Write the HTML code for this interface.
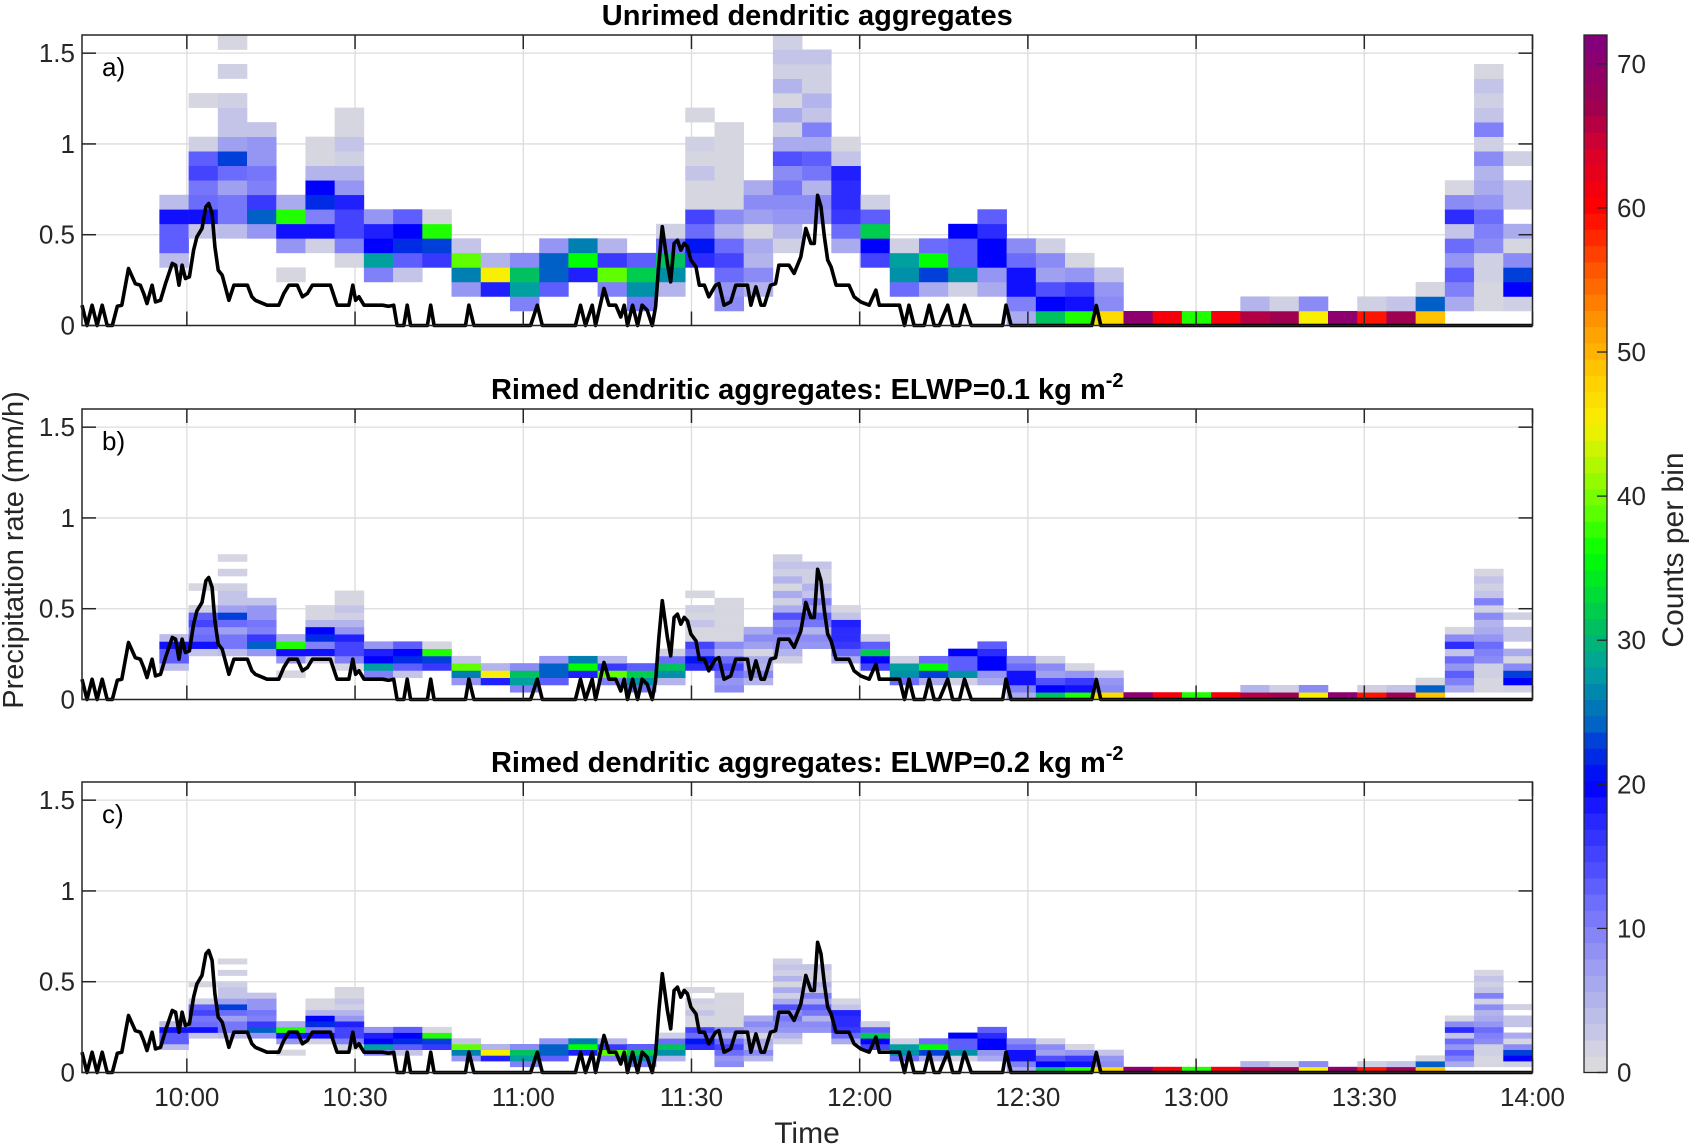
<!DOCTYPE html>
<html><head><meta charset="utf-8"><style>
html,body{margin:0;padding:0;background:#fff}
svg{display:block;font-family:"Liberation Sans",Arial,sans-serif}
</style></head><body>
<svg id="chart" width="1692" height="1147" viewBox="0 0 1692 1147" xmlns="http://www.w3.org/2000/svg"></svg>
<script>
// ---- data ----
const xTickLabels = ["10:00","10:30","11:00","11:30","12:00","12:30","13:00","13:30","14:00"];
const xTickMinutes = [0,30,60,90,120,150,180,210,240]; // minutes after 10:00
const yTickValues = [0,0.5,1,1.5];
const yTickLabels = ["0","0.5","1","1.5"];
const cbTickValues = [0,10,20,30,40,50,60,70];
const panelTitles = ["Unrimed dendritic aggregates","Rimed dendritic aggregates: ELWP=0.1 kg m","Rimed dendritic aggregates: ELWP=0.2 kg m"];
const panelLetters = ["a)","b)","c)"];
const rowBinWidth = [0.08, 0.04, 0.0314]; // mm/h per heatmap row
const colStartMinute = -4.9;
const colEndMinute = 240;
// counts per bin, per time column, from lowest row upward
const countsA = [
[0,0,0,0,4,13,13,19,4],
[0,0,0,0,0,0,3,19,12,11,15,13,2,0,0,1],
[0,0,0,0,0,0,4,11,11,7,12,23,7,3,3,2,0,2,0,1],
[0,0,0,0,0,0,8,24,16,10,11,8,8,3],
[0,0,0,1,0,8,19,37,6],
[0,0,0,0,0,2,19,10,22,20,5,1,1],
[0,0,0,0,1,10,15,15,18,8,5,2,3,1,1],
[0,0,0,10,28,20,18,8],
[0,0,0,3,13,22,20,13],
[0,0,0,0,16,23,37,1],
[0,0,8,26,39,3],
[0,0,18,45,5],
[0,10,28,31,9],
[0,0,13,24,24,8],
[0,0,0,18,36,26],
[0,0,10,39,16,5],
[0,11,27,32,13],
[0,0,5,27,31,12,2],
[0,0,0,0,17,21,12,15,1,1,3,1,2,0,1],
[0,9,8,12,15,12,5,9,1,1,1,1,1,1],
[0,0,5,9,5,6,1,7,9,6],
[0,0,0,0,0,2,5,8,9,11,9,14,6,2,6,1,5,2,3,2],
[0,0,0,0,0,0,0,8,9,5,11,13,6,10,3,5,2,2,3],
[0,0,0,0,0,6,12,16,17,17,18,3,1],
[0,0,0,0,15,20,32,13,2],
[0,0,12,27,28,2],
[0,0,6,23,36,12],
[0,0,2,27,13,13,20],
[0,0,6,8,20,20,17,13],
[6,10,19,19,12,9],
[31,20,14,7,9,2],
[37,19,16,8,1],
[47,9,8,3],
[70],[61],[37],[61],[66,5],[67,2],[45,9],[70],[59,2],[67,3],
[49,24,1],
[0,6,10,13,8,12,3,17,9,1],
[0,1,1,2,2,9,10,12,8,6,5,9,2,10,3,2,3,1],
[0,2,20,23,9,1,6,0,3,3,0,2]
];
const countsB = countsA;
const countsC = countsA;
// observed precipitation rate line (minutes after 10:00, mm/h)
const lineMinutes = [-18.7,-17.8,-16.9,-16.0,-15.1,-14.2,-13.3,-12.4,-11.6,-10.4,-9.2,-8.3,-7.7,-7.1,-6.2,-5.6,-4.7,-3.8,-2.6,-2.0,-1.4,-0.85,-0.25,0.46,1.2,1.8,2.7,3.4,3.9,4.5,5.0,5.6,6.3,7.5,8.4,10.8,11.6,12.2,14.3,16.4,17.3,18.2,19.7,20.6,21.5,22.4,25.6,26.5,26.8,28.9,29.6,30.1,30.7,31.6,34.9,36.0,36.9,37.5,38.7,39.3,39.9,42.9,43.5,44.1,49.7,50.3,51.2,61.3,62.5,63.4,68.45,69.3,70.2,71.1,72.3,72.9,74.4,75.3,76.5,77.4,78.0,78.6,79.5,80.4,81.2,82.1,83.0,83.6,84.2,84.8,85.7,86.3,86.9,87.5,88.1,88.7,89.3,89.9,90.8,91.4,92.3,93.1,94.3,94.9,95.8,97.0,97.9,100.0,100.6,101.5,102.4,103.0,104.1,105.0,105.6,107.4,108.3,109.5,110.4,111.3,111.9,112.5,113.1,113.7,114.3,114.9,115.8,118.1,119.0,120.2,121.7,122.9,123.5,127.1,128.0,128.8,129.7,131.5,132.4,133.3,134.2,135.7,136.6,137.8,138.7,139.9,145.5,146.1,147.0,161.4,162.2,163.0,240];
const lineRates = [0.112,0,0.112,0,0.112,0,0,0.106,0.112,0.314,0.231,0.222,0.176,0.121,0.222,0.130,0.139,0.231,0.342,0.332,0.222,0.332,0.259,0.268,0.415,0.488,0.535,0.654,0.672,0.617,0.433,0.305,0.277,0.139,0.222,0.222,0.158,0.139,0.112,0.112,0.176,0.222,0.222,0.158,0.176,0.222,0.222,0.139,0.112,0.112,0.222,0.139,0.158,0.112,0.112,0.106,0.112,0,0,0.112,0,0,0.112,0,0,0.112,0,0,0.112,0,0,0,0.112,0,0.112,0,0.204,0.112,0.112,0.047,0.112,0,0.112,0,0.112,0.084,0,0.103,0.342,0.544,0.342,0.240,0.452,0.470,0.415,0.452,0.433,0.360,0.323,0.222,0.222,0.158,0.222,0.231,0.112,0.130,0.222,0.222,0.112,0.213,0.112,0.112,0.222,0.231,0.332,0.332,0.287,0.378,0.535,0.452,0.452,0.717,0.654,0.488,0.360,0.323,0.222,0.222,0.158,0.130,0.112,0.195,0.112,0.112,0,0.112,0,0,0.112,0,0,0.112,0,0,0.112,0,0,0.112,0,0,0.11,0,0];
// ---- colormap (counts -> colour) ----
const cmapStops = [[0,"#dcdcdc"],[2,"#d0d0e4"],[3,"#c4c4e8"],[5,"#b4b4ec"],[7,"#a0a0f0"],[10,"#8080f8"],[12,"#6c6cfc"],[14,"#5050ff"],[16,"#3838ff"],[18,"#2020ff"],[20,"#0000ff"],[23,"#0040d8"],[24,"#0060c8"],[26,"#0080b0"],[28,"#00a0a0"],[31,"#00c060"],[36,"#00ff00"],[39,"#60ff00"],[45,"#f8f000"],[48,"#ffd000"],[52,"#ff9800"],[56,"#ff5000"],[60,"#ff0000"],[64,"#d8002c"],[67,"#a00050"],[72,"#800080"]];
function hex2rgb(h){return [parseInt(h.substr(1,2),16),parseInt(h.substr(3,2),16),parseInt(h.substr(5,2),16)];}
function cmap(v){
  if(v<=cmapStops[0][0]) return cmapStops[0][1];
  for(let i=1;i<cmapStops.length;i++){
    if(v<=cmapStops[i][0]){
      const a=cmapStops[i-1],b=cmapStops[i],f=(v-a[0])/(b[0]-a[0]);
      const ca=hex2rgb(a[1]),cb=hex2rgb(b[1]);
      return "rgb("+ca.map((c,k)=>Math.round(c+(cb[k]-c)*f)).join(",")+")";
    }
  }
  return cmapStops[cmapStops.length-1][1];
}
// ---- layout ----
const NS="http://www.w3.org/2000/svg";
const svg=document.getElementById("chart");
const plotL=82, plotR=1532.5, plotH=290.5;
const panelTops=[35,409,782];
const xMin=-18.7, xMax=240, yMax=1.6;
function xScale(t){return plotL+(t-xMin)/(xMax-xMin)*(plotR-plotL);}
function mk(tag,attrs,parent){const e=document.createElementNS(NS,tag);for(const k in attrs)e.setAttribute(k,attrs[k]);(parent||svg).appendChild(e);return e;}
const allCounts=[countsA,countsB,countsC];
const nCols=countsA.length;
const colW=(colEndMinute-colStartMinute)/nCols;

for(let p=0;p<3;p++){
  const top=panelTops[p], bot=top+plotH;
  const yScale=v=>bot-v/yMax*plotH;
  const g=mk("g",{});
  
  
  // grid
  const grid=mk("g",{},g);
  
  
  xTickMinutes.forEach(t=>{const x=xScale(t);mk("line",{x1:x,x2:x,y1:top,y2:bot,stroke:"#dcdcdc","stroke-width":1.3},grid);});
  yTickValues.forEach(v=>{const y=yScale(v);mk("line",{x1:plotL,x2:plotR,y1:y,y2:y,stroke:"#dcdcdc","stroke-width":1.3},grid);});
  // heatmap
  const hm=mk("g",{},g);
  
  
  const counts=allCounts[p], rh=rowBinWidth[p];
  counts.forEach((col,ci)=>{
    const x0=xScale(colStartMinute+ci*colW), x1=xScale(colStartMinute+(ci+1)*colW);
    col.forEach((c,ri)=>{
      if(c<=0) return;
      const y1=yScale(ri*rh), y0=yScale((ri+1)*rh);
      const r=mk("rect",{x:x0,y:y0,width:x1-x0+0.3,height:y1-y0+0.3,fill:cmap(c)},hm);
      
      
    });
  });
  // line
  let d="";
  lineMinutes.forEach((t,i)=>{d+=(i?"L":"M")+xScale(t).toFixed(1)+","+yScale(lineRates[i]).toFixed(1);});
  const ln=mk("path",{d:d,fill:"none",stroke:"#000","stroke-width":3.6,"stroke-linejoin":"round"},g);
  
  
  // axes box
  const box=mk("rect",{x:plotL,y:top,width:plotR-plotL,height:plotH,fill:"none",stroke:"#262626","stroke-width":1.5},g);
  
  
  // ticks
  xTickMinutes.forEach(t=>{const x=xScale(t);
    mk("line",{x1:x,x2:x,y1:bot,y2:bot-14,stroke:"#262626","stroke-width":1.5},g);
    mk("line",{x1:x,x2:x,y1:top,y2:top+14,stroke:"#262626","stroke-width":1.5},g);});
  yTickValues.forEach((v,i)=>{const y=yScale(v);
    mk("line",{x1:plotL,x2:plotL+14,y1:y,y2:y,stroke:"#262626","stroke-width":1.5},g);
    mk("line",{x1:plotR,x2:plotR-14,y1:y,y2:y,stroke:"#262626","stroke-width":1.5},g);
    const tl=mk("text",{x:75,y:y+9,"text-anchor":"end","font-size":26,fill:"#262626"},g);
    tl.textContent=yTickLabels[i];
    
    
  });
  // letter
  const lt=mk("text",{x:102,y:top+41,"font-size":26,fill:"#000"},g);
  lt.textContent=panelLetters[p];
  
  
  // title
  const tt=mk("text",{x:(plotL+plotR)/2,y:top-10,"text-anchor":"middle","font-size":29,"font-weight":"bold",fill:"#000"},g);
  tt.textContent=panelTitles[p];
  if(p>0){const sp=mk("tspan",{dy:-12,"font-size":20},tt);sp.textContent="-2";}
  
  
}
// x tick labels (bottom panel)
xTickMinutes.forEach((t,i)=>{
  const tl=mk("text",{x:xScale(t),y:1106,"text-anchor":"middle","font-size":26,fill:"#262626"});
  tl.textContent=xTickLabels[i];
  
  
});
const xt=mk("text",{x:807,y:1143,"text-anchor":"middle","font-size":30,fill:"#262626"});
xt.textContent="Time";


const yt=mk("text",{x:0,y:0,"text-anchor":"middle","font-size":29,fill:"#262626",transform:"translate(23,550) rotate(-90)"});
yt.textContent="Precipitation rate (mm/h)";


// colorbar
const cbL=1584, cbR=1607, cbT=35, cbB=1072.5, cbMax=72, nBands=64;
const cb=mk("g",{});


for(let i=0;i<nBands;i++){
  const v0=i*cbMax/nBands, v1=(i+1)*cbMax/nBands;
  const y0=cbB-v1/cbMax*(cbB-cbT), y1=cbB-v0/cbMax*(cbB-cbT);
  mk("rect",{x:cbL,y:y0,width:cbR-cbL,height:y1-y0+0.4,fill:cmap((v0+v1)/2)},cb);
}
mk("rect",{x:cbL,y:cbT,width:cbR-cbL,height:cbB-cbT,fill:"none",stroke:"#262626","stroke-width":1.3},cb);
cbTickValues.forEach(v=>{
  const y=cbB-v/cbMax*(cbB-cbT);
  mk("line",{x1:cbR,x2:cbR-10,y1:y,y2:y,stroke:"#262626","stroke-width":1.3},cb);
  const tl=mk("text",{x:1617,y:y+9,"font-size":26,fill:"#262626"},cb);
  tl.textContent=String(v);
  
  
});
const cbt=mk("text",{x:0,y:0,"text-anchor":"middle","font-size":30,fill:"#262626",transform:"translate(1683,550) rotate(-90)"});
cbt.textContent="Counts per bin";


</script>
</body></html>
